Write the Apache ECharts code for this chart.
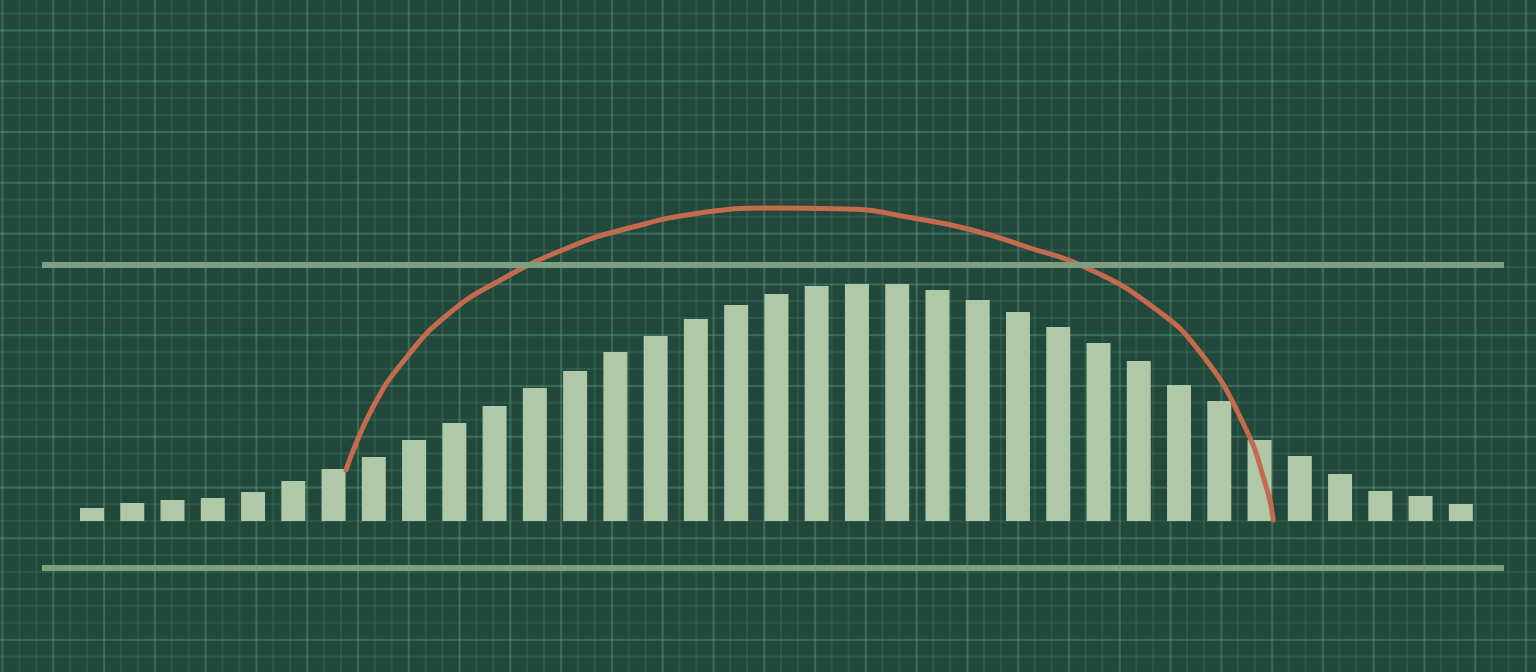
<!DOCTYPE html>
<html>
<head>
<meta charset="utf-8">
<script src="https://cdn.jsdelivr.net/npm/echarts@6/dist/echarts.min.js"></script>
<style>
	html, body { margin: 0; padding: 0; }
	body {
		width: 1536px;
		height: 672px;
		overflow: hidden;
		background-color: #21483b;
		background-image:
			linear-gradient(to right, rgba(110, 170, 140, 0.24) 2px, transparent 2px),
			linear-gradient(to bottom, rgba(110, 170, 140, 0.24) 2px, transparent 2px),
			linear-gradient(to right, rgba(100, 160, 130, 0.18) 1.5px, transparent 1.5px),
			linear-gradient(to bottom, rgba(100, 160, 130, 0.18) 1.5px, transparent 1.5px);
		background-size: 50.8px 50.8px, 50.8px 50.8px, 16.93px 16.93px, 16.93px 16.93px;
		background-position: 1.5px 29.5px, 1.5px 29.5px, 1.5px 12.5px, 1.5px 12.5px;
	}
	#main { width: 1536px; height: 672px; }
</style>
</head>
<body>
<div id="main"></div>
<script>
// bar heights, one per slot
const barValues = [
	13, 18, 21, 23, 29, 40, 52, 64, 81, 98, 115, 133, 150, 169, 185, 202, 216, 227,
	235, 237, 237, 231, 221, 209, 194, 178, 160, 136, 120, 81, 65, 47, 30, 25, 17,
]
// arc: slot position and height
const arcX = [
	6.31, 6.98, 7.82, 8.82, 10.06, 11.87, 13.44, 15.1, 16.77, 18.75,
	20.39, 21.81, 23.22, 24.71, 26.35, 27.52, 28.59, 29.19, 29.34,
]
const arcY = [
	51, 114, 164, 206, 239, 274, 294, 308, 313, 312,
	303, 291.5, 274, 253, 214, 169, 98, 31, 1,
]
// the two flat reference lines
const refLines = [256, -47]

let chartDom = document.getElementById("main")
let chart = echarts.init(chartDom, null, { renderer: "canvas" })
let option = {
	backgroundColor: "transparent",
	animation: false,
	grid: {
		left: 42,
		right: 32,
		top: 0,
		bottom: 0,
	},
	xAxis: {
		type: "value",
		min: -1.242,
		max: 35.072,
		show: false,
	},
	yAxis: {
		type: "value",
		min: -151,
		max: 521,
		show: false,
	},
	series: [
		{
			type: "bar",
			data: barValues.map((v, i) => [i, v]),
			barWidth: 24,
			itemStyle: {
				color: "#afc8a7",
			},
			markLine: {
				silent: true,
				symbol: "none",
				label: { show: false },
				lineStyle: {
					type: "solid",
					color: "#7c9f83",
					width: 6,
					cap: "butt",
				},
				data: refLines.map((v) => ({ yAxis: v })),
			},
		},
		{
			type: "line",
			data: arcX.map((x, i) => [x, arcY[i]]),
			smooth: 0.5,
			showSymbol: false,
			lineStyle: {
				color: "#c56a4f",
				width: 5,
				cap: "round",
			},
			z: 3,
		},
	],
}
chart.setOption(option)
</script>
</body>
</html>
